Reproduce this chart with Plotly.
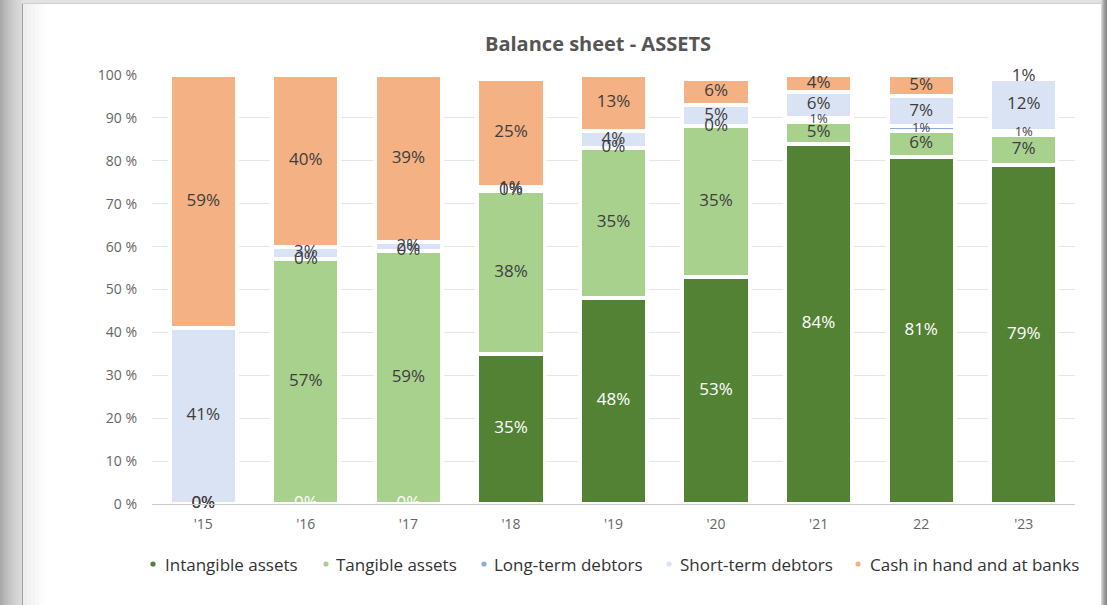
import numpy as np
import plotly.graph_objects as go

# --- data -------------------------------------------------------------
years = ["'15", "'16", "'17", "'18", "'19", "'20", "'21", "22", "'23"]

intangible = [0, 0, 0, 35, 48, 53, 84, 81, 79]
tangible = [0, 57, 59, 38, 35, 35, 5, 6, 7]
long_term_debtors = [0, 0, 0, 0, 0, 0, 1, 1, 1]
short_term_debtors = [41, 3, 2, 1, 4, 5, 6, 7, 12]
cash = [59, 40, 39, 25, 13, 6, 4, 5, 1]

series_names = ["Intangible assets", "Tangible assets", "Long-term debtors",
                "Short-term debtors", "Cash in hand and at banks"]
series_values = [intangible, tangible, long_term_debtors, short_term_debtors, cash]
series_colors = ["#548235", "#A9D18E", "#8FAADC", "#DAE3F3", "#F4B183"]
label_colors = ["#ffffff", "#3d3d3d", "#3d3d3d", "#3d3d3d", "#3d3d3d"]

# --- layout geometry (pixels) -----------------------------------------
W, H = 1107, 605
PL, PR, PT, PB = 152, 1075, 75, 504
plot_w, plot_h = PR - PL, PB - PT

# legend row: marker centre and text start for each entry
legend_y = 564
legend_marker_x = [153, 326, 484, 669, 858]
legend_text_x = [163, 334, 492, 678, 868]


def px(x):
    return (x - PL) / plot_w


def py(y):
    return (PB - y) / plot_h


fig = go.Figure()

# stacked bars
for name, vals, col in zip(series_names, series_values, series_colors):
    fig.add_trace(go.Bar(
        x=years, y=vals, name=name, marker_color=col,
        marker_line_color="#ffffff", marker_line_width=4,
        showlegend=False, hoverinfo="skip",
    ))

# segment labels placed at the middle of each segment
bases = np.vstack([np.zeros(len(years)),
                   np.cumsum(np.array(series_values[:-1]), axis=0)])
for i, (name, vals) in enumerate(zip(series_names, series_values)):
    vals = np.array(vals)
    mids = bases[i] + vals / 2
    sizes = [13 if (name == "Long-term debtors" and v > 0) else 17 for v in vals]
    fig.add_trace(go.Scatter(
        x=years, y=mids, mode="text", text=[f"{v}%" for v in vals],
        textposition="middle center",
        textfont=dict(family="Open Sans", size=sizes, color=label_colors[i]),
        showlegend=False, hoverinfo="skip", cliponaxis=False,
    ))

shapes = []
annotations = []

# legend drawn as small dots with names
for name, col, mx, tx in zip(series_names, series_colors, legend_marker_x, legend_text_x):
    shapes.append(dict(type="circle", xref="paper", yref="paper",
                       x0=px(mx - 2.6), x1=px(mx + 2.6),
                       y0=py(legend_y + 2.6), y1=py(legend_y - 2.6),
                       fillcolor=col, line_width=0))
    annotations.append(dict(text=name, xref="paper", yref="paper",
                            x=px(tx), y=py(legend_y), xanchor="left", yanchor="middle",
                            showarrow=False,
                            font=dict(family="Open Sans", size=17, color="#333333")))

# card frame and page shading around it
left_shades = ["#a9a9a9", "#b1b1b1", "#b8b8b8", "#bdbdbd", "#c3c3c3", "#c8c8c8",
               "#cccccc", "#d0d0d0", "#d4d4d4", "#d7d7d7", "#dadada"]
for k, c in enumerate(left_shades):
    shapes.append(dict(type="rect", xref="paper", yref="paper",
                       x0=px(k * 2), x1=px(k * 2 + 2), y0=py(H), y1=py(0),
                       fillcolor=c, line_width=0, layer="below"))
shapes.append(dict(type="rect", xref="paper", yref="paper",
                   x0=px(22), x1=px(W), y0=py(3), y1=py(0),
                   fillcolor="#e2e2e2", line_width=0, layer="below"))
inner = ["#eeeeee", "#f2f2f2", "#f5f5f5", "#f8f8f8", "#fbfbfb", "#fdfdfd"]
for k, c in enumerate(inner):
    shapes.append(dict(type="rect", xref="paper", yref="paper",
                       x0=px(23 + k * 4), x1=px(27 + k * 4), y0=py(H), y1=py(4),
                       fillcolor=c, line_width=0, layer="below"))
shapes.append(dict(type="line", xref="paper", yref="paper",
                   x0=px(22.5), x1=px(22.5), y0=py(H), y1=py(3),
                   line=dict(color="#a0a0a0", width=1), layer="below"))
shapes.append(dict(type="line", xref="paper", yref="paper",
                   x0=px(22), x1=px(1101), y0=py(3.5), y1=py(3.5),
                   line=dict(color="#cfcfcf", width=1), layer="below"))
right_shades = ["#d8d8d8", "#c0c0c0", "#adadad", "#9d9d9d", "#919191", "#888888"]
for k, c in enumerate(right_shades):
    shapes.append(dict(type="rect", xref="paper", yref="paper",
                       x0=px(1101 + k), x1=px(1102 + k), y0=py(H), y1=py(0),
                       fillcolor=c, line_width=0, layer="below"))

fig.update_layout(
    width=W, height=H,
    margin=dict(l=PL, r=W - PR, t=PT, b=H - PB, pad=0),
    paper_bgcolor="#ffffff", plot_bgcolor="#ffffff",
    barmode="stack", bargap=0.345, showlegend=False,
    font=dict(family="Open Sans", color="#666666", size=14),
    title=dict(text="<b>Balance sheet - ASSETS</b>", x=598 / W, xanchor="center",
               y=1 - 44 / H, yanchor="middle",
               font=dict(family="Open Sans", size=20, color="#555555")),
    xaxis=dict(showgrid=False, showline=True, linecolor="#cccccc", linewidth=1,
               ticks="", ticklabelstandoff=7,
               tickfont=dict(size=14, color="#666666"), fixedrange=True),
    yaxis=dict(range=[0, 100], dtick=10, ticksuffix=" %", showgrid=True,
               gridcolor="#e6e6e6", gridwidth=1, zeroline=False,
               ticklabelstandoff=14,
               tickfont=dict(size=14, color="#666666"), fixedrange=True),
    shapes=shapes,
    annotations=annotations,
)

fig.write_html("out.html")
